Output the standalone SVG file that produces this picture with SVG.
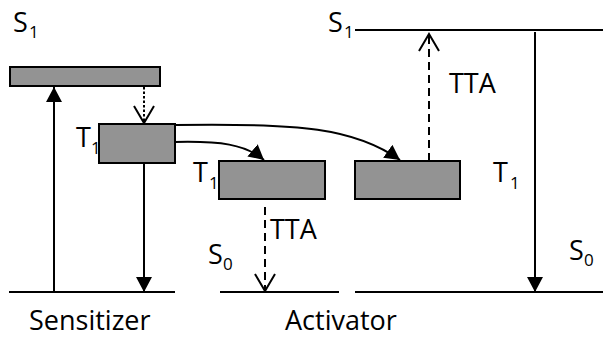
<svg xmlns="http://www.w3.org/2000/svg" width="603" height="337" viewBox="0 0 603 337">
<style>
.lbl{font-family:"Open Sans","Liberation Sans",sans-serif;font-size:27px;fill:#000}
.sub{font-size:17px}
.lvl{fill:#939393;stroke:#000;stroke-width:2}
.line{stroke:#000;stroke-width:2;fill:none}
.dash{stroke-dasharray:8,5}
.dot{stroke-dasharray:2.5,2}
</style>
<defs>
<marker id="fill" markerUnits="userSpaceOnUse" markerWidth="16" markerHeight="16" viewBox="0 0 16 16" refX="15" refY="8" orient="auto">
<path d="M0,0 L15,8 L0,16 Z" fill="#000"/>
</marker>
<marker id="open" markerUnits="userSpaceOnUse" markerWidth="20" markerHeight="24" viewBox="0 0 20 24" refX="18" refY="12" orient="auto">
<path d="M1,2 L18,12 L1,22" fill="none" stroke="#000" stroke-width="2"/>
</marker>
</defs>
<g id="sens-ground"><line class="line" x1="9" y1="292" x2="175" y2="292"/></g>
<g id="act-ground-1"><line class="line" x1="220" y1="292" x2="339" y2="292"/></g>
<g id="act-ground-2"><line class="line" x1="355" y1="292" x2="603" y2="292"/></g>
<g id="act-s1"><line class="line" x1="355" y1="30" x2="603" y2="30"/></g>
<g id="sens-s1"><rect class="lvl" x="10" y="67" width="150" height="19"/></g>
<g id="sens-t1"><rect class="lvl" x="99" y="124" width="76" height="39"/></g>
<g id="act-t1-a"><rect class="lvl" x="219" y="161" width="106" height="38"/></g>
<g id="act-t1-b"><rect class="lvl" x="355" y="161" width="105" height="38"/></g>
<g id="connectors">
<line class="line" x1="54" y1="292" x2="54" y2="87" marker-end="url(#fill)"/>
<line class="line dot" x1="144" y1="87" x2="144" y2="123" marker-end="url(#open)"/>
<line class="line" x1="144" y1="163" x2="144" y2="292" marker-end="url(#fill)"/>
<path class="line" d="M175,125 C300,123 355,128 400,160" marker-end="url(#fill)"/>
<path class="line" d="M175,142 C220,141 245,144 264,160" marker-end="url(#fill)"/>
<line class="line dash" x1="265" y1="207" x2="265" y2="291" marker-end="url(#open)"/>
<line class="line dash" x1="429" y1="161" x2="429" y2="34" marker-end="url(#open)"/>
<line class="line" x1="535" y1="32" x2="535" y2="292" marker-end="url(#fill)"/>
</g>
<g id="labels">
<text class="lbl" x="13" y="32">S<tspan class="sub" x="29" y="38">1</tspan></text>
<text class="lbl" x="328" y="32">S<tspan class="sub" x="344" y="38">1</tspan></text>
<text class="lbl" x="76" y="147">T<tspan class="sub" x="91" y="154">1</tspan></text>
<text class="lbl" x="193" y="182">T<tspan class="sub" x="209" y="189">1</tspan></text>
<text class="lbl" x="493" y="182">T<tspan class="sub" x="510" y="189">1</tspan></text>
<text class="lbl" x="208" y="264">S<tspan class="sub" x="223" y="270">0</tspan></text>
<text class="lbl" x="569" y="260">S<tspan class="sub" x="584" y="266">0</tspan></text>
<text class="lbl" x="270" y="239">TTA</text>
<text class="lbl" x="449" y="93">TTA</text>
<text class="lbl" x="29" y="330">Sensitizer</text>
<text class="lbl" x="285" y="330">Activator</text>
</g>
</svg>
